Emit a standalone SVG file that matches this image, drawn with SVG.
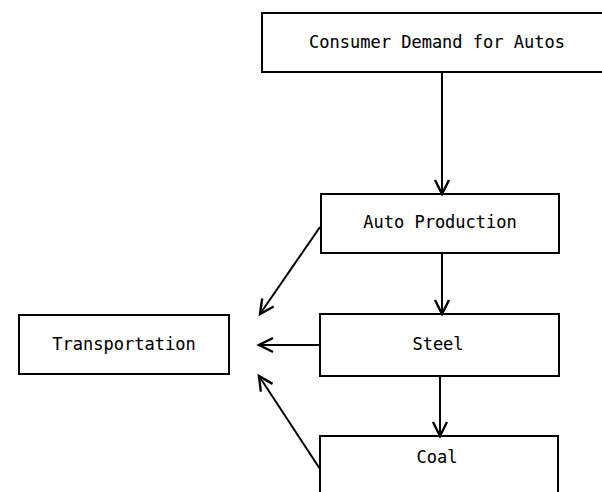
<svg xmlns="http://www.w3.org/2000/svg" width="602" height="492" viewBox="0 0 602 492">
<style>
.box{fill:#fff;stroke:#000;stroke-width:2}
.lbl{font-family:"DejaVu Sans Mono","Liberation Mono",monospace;font-size:17px;fill:#000;stroke:#000;stroke-width:0.1;text-anchor:middle}
.conn{stroke:#000;stroke-width:2;fill:none;marker-end:url(#arr)}
</style>
<defs>
<marker id="arr" markerUnits="userSpaceOnUse" markerWidth="24" markerHeight="24" refX="17" refY="12" orient="auto">
<path d="M3,5 L17,12 L3,19" fill="none" stroke="#000" stroke-width="2.4" stroke-linejoin="miter"/>
</marker>
</defs>
<rect width="602" height="492" fill="#fff"/>
<g id="consumer-demand">
<rect class="box" x="262" y="13" width="360" height="59"/>
<text class="lbl" x="437" y="48">Consumer Demand for Autos</text>
</g>
<g id="auto-production">
<rect class="box" x="321" y="194" width="238" height="59"/>
<text class="lbl" x="440" y="228">Auto Production</text>
</g>
<g id="steel">
<rect class="box" x="320" y="314" width="239" height="62"/>
<text class="lbl" x="438" y="350">Steel</text>
</g>
<g id="coal">
<rect class="box" x="320" y="436" width="238" height="70"/>
<text class="lbl" x="437" y="463">Coal</text>
</g>
<g id="transportation">
<rect class="box" x="19" y="315" width="210" height="59"/>
<text class="lbl" x="124" y="350">Transportation</text>
</g>
<g id="connectors">
<line class="conn" x1="442" y1="72" x2="442" y2="194"/>
<line class="conn" x1="442" y1="253" x2="442" y2="314"/>
<line class="conn" x1="440" y1="376" x2="440" y2="436"/>
<line class="conn" x1="320" y1="227" x2="260" y2="314"/>
<line class="conn" x1="320" y1="345" x2="259" y2="345"/>
<line class="conn" x1="320" y1="469" x2="259" y2="376"/>
</g>
</svg>
